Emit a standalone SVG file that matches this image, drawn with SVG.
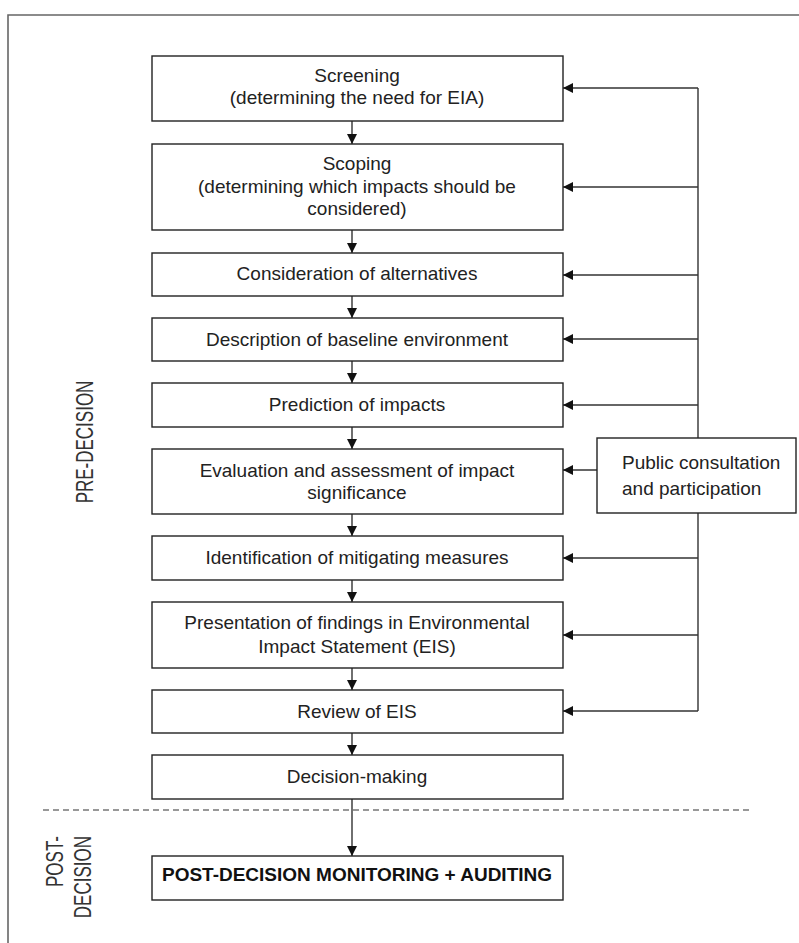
<svg xmlns="http://www.w3.org/2000/svg" width="799" height="943" viewBox="0 0 799 943">
<style>
  .box{fill:#fff;stroke:#222;stroke-width:1.4}
  .t{font-family:"Liberation Sans",Arial,sans-serif;font-size:19px;fill:#222;text-anchor:middle}
  .tl{font-family:"Liberation Sans",Arial,sans-serif;font-size:19px;fill:#222}
  .tb{font-family:"Liberation Sans",Arial,sans-serif;font-size:19px;font-weight:bold;fill:#111;text-anchor:middle}
  .side{font-family:"Liberation Sans",Arial,sans-serif;font-size:17px;fill:#333}
  .c{stroke:#333;stroke-width:1.4;fill:none}
</style>
<defs>
  <marker id="ah" viewBox="0 0 10 10" refX="10" refY="5" markerWidth="10" markerHeight="10" markerUnits="userSpaceOnUse" orient="auto">
    <path d="M0,0 L10,5 L0,10 z" fill="#111"/>
  </marker>
</defs>
<rect width="799" height="943" fill="#fff"/>
<g id="frame">
  <path d="M8,943 L8,15 L799,15" fill="none" stroke="#666" stroke-width="1.6"/>
  <line x1="43" y1="810" x2="750" y2="810" stroke="#333" stroke-width="1.2" stroke-dasharray="6,4"/>
</g>
<g id="label-pre">
  <text class="side" text-anchor="middle" transform="translate(93,442) rotate(-90) scale(1,1.4)">PRE-DECISION</text>
</g>
<g id="label-post">
  <text class="side" text-anchor="end" transform="translate(63,836) rotate(-90) scale(1,1.4)">POST-</text>
  <text class="side" text-anchor="end" transform="translate(91,836) rotate(-90) scale(1,1.4)">DECISION</text>
</g>
<g id="connectors">
  <line class="c" x1="352" y1="121" x2="352" y2="144" marker-end="url(#ah)"/>
  <line class="c" x1="352" y1="230" x2="352" y2="253" marker-end="url(#ah)"/>
  <line class="c" x1="352" y1="296" x2="352" y2="318" marker-end="url(#ah)"/>
  <line class="c" x1="352" y1="361" x2="352" y2="383" marker-end="url(#ah)"/>
  <line class="c" x1="352" y1="427" x2="352" y2="449" marker-end="url(#ah)"/>
  <line class="c" x1="352" y1="514" x2="352" y2="536" marker-end="url(#ah)"/>
  <line class="c" x1="352" y1="580" x2="352" y2="602" marker-end="url(#ah)"/>
  <line class="c" x1="352" y1="668" x2="352" y2="690" marker-end="url(#ah)"/>
  <line class="c" x1="352" y1="733" x2="352" y2="755" marker-end="url(#ah)"/>
  <line class="c" x1="352" y1="799" x2="352" y2="856" marker-end="url(#ah)"/>
  <line class="c" x1="698" y1="88" x2="698" y2="438"/>
  <line class="c" x1="698" y1="513" x2="698" y2="711"/>
  <line class="c" x1="698" y1="88" x2="563" y2="88" marker-end="url(#ah)"/>
  <line class="c" x1="698" y1="187" x2="563" y2="187" marker-end="url(#ah)"/>
  <line class="c" x1="698" y1="275" x2="563" y2="275" marker-end="url(#ah)"/>
  <line class="c" x1="698" y1="339" x2="563" y2="339" marker-end="url(#ah)"/>
  <line class="c" x1="698" y1="405" x2="563" y2="405" marker-end="url(#ah)"/>
  <line class="c" x1="597" y1="470" x2="563" y2="470" marker-end="url(#ah)"/>
  <line class="c" x1="698" y1="558" x2="563" y2="558" marker-end="url(#ah)"/>
  <line class="c" x1="698" y1="635" x2="563" y2="635" marker-end="url(#ah)"/>
  <line class="c" x1="698" y1="711" x2="563" y2="711" marker-end="url(#ah)"/>
</g>
<g id="screening">
  <rect class="box" x="152" y="56" width="411" height="65"/>
  <text class="t" x="357" y="82">Screening</text>
  <text class="t" x="357" y="104">(determining the need for EIA)</text>
</g>
<g id="scoping">
  <rect class="box" x="152" y="144" width="411" height="86"/>
  <text class="t" x="357" y="170">Scoping</text>
  <text class="t" x="357" y="193">(determining which impacts should be</text>
  <text class="t" x="357" y="215">considered)</text>
</g>
<g id="alternatives">
  <rect class="box" x="152" y="253" width="411" height="43"/>
  <text class="t" x="357" y="280">Consideration of alternatives</text>
</g>
<g id="baseline">
  <rect class="box" x="152" y="318" width="411" height="43"/>
  <text class="t" x="357" y="346">Description of baseline environment</text>
</g>
<g id="prediction">
  <rect class="box" x="152" y="383" width="411" height="44"/>
  <text class="t" x="357" y="411">Prediction of impacts</text>
</g>
<g id="evaluation">
  <rect class="box" x="152" y="449" width="411" height="65"/>
  <text class="t" x="357" y="477">Evaluation and assessment of impact</text>
  <text class="t" x="357" y="499">significance</text>
</g>
<g id="mitigation">
  <rect class="box" x="152" y="536" width="411" height="44"/>
  <text class="t" x="357" y="564">Identification of mitigating measures</text>
</g>
<g id="presentation">
  <rect class="box" x="152" y="602" width="411" height="66"/>
  <text class="t" x="357" y="629">Presentation of findings in Environmental</text>
  <text class="t" x="357" y="653">Impact Statement (EIS)</text>
</g>
<g id="review">
  <rect class="box" x="152" y="690" width="411" height="43"/>
  <text class="t" x="357" y="718">Review of EIS</text>
</g>
<g id="decision">
  <rect class="box" x="152" y="755" width="411" height="44"/>
  <text class="t" x="357" y="783">Decision-making</text>
</g>
<g id="monitoring">
  <rect class="box" x="152" y="856" width="411" height="44"/>
  <text class="tb" x="357" y="881">POST-DECISION MONITORING + AUDITING</text>
</g>
<g id="public">
  <rect class="box" x="597" y="438" width="199" height="75"/>
  <text class="tl" x="622" y="469">Public consultation</text>
  <text class="tl" x="622" y="495">and participation</text>
</g>
</svg>
